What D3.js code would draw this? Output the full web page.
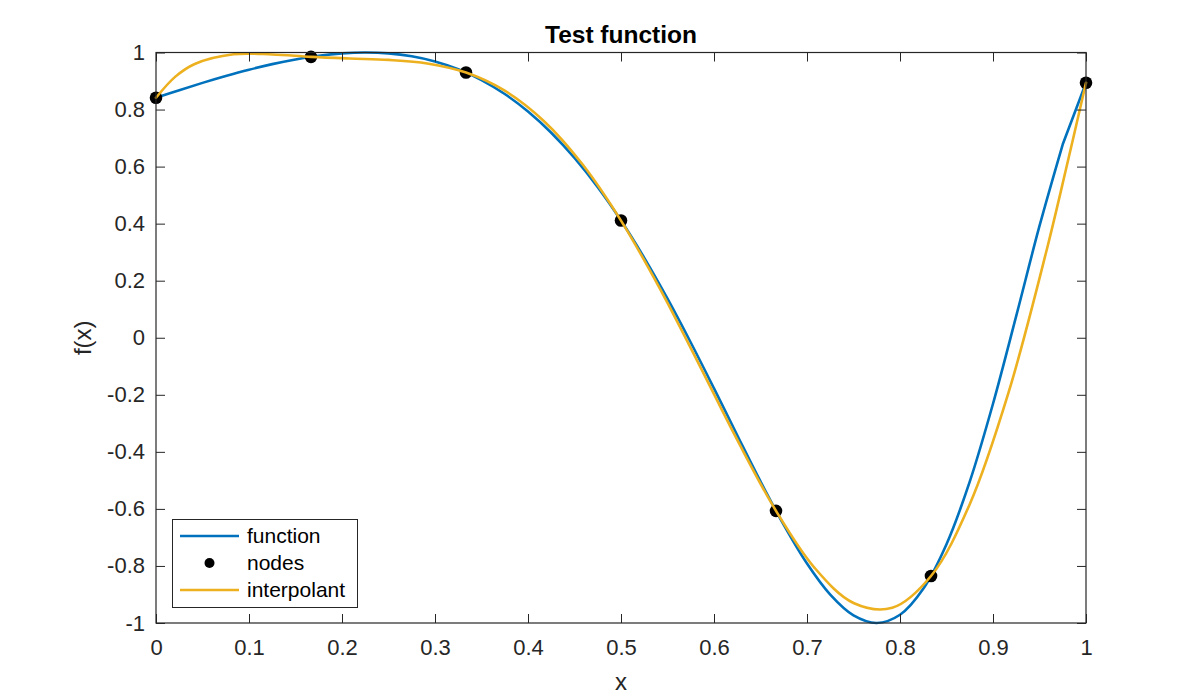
<!DOCTYPE html>
<html>
<head>
<meta charset="utf-8">
<script src="https://cdn.jsdelivr.net/npm/d3@7"></script>
<style>
  html, body { margin: 0; padding: 0; background: #fff; }
  svg { display: block; font-family: "Liberation Sans", Arial, Helvetica, sans-serif; }
</style>
</head>
<body>
<svg id="chart" width="1200" height="700"></svg>
<script>
// ---- data ----
const funcX = [0, 0.025, 0.05, 0.075, 0.1, 0.125, 0.15, 0.175, 0.2, 0.225, 0.25, 0.275, 0.3, 0.325, 0.35, 0.375, 0.4, 0.425, 0.45, 0.475, 0.5, 0.525, 0.55, 0.575, 0.6, 0.625, 0.65, 0.675, 0.7, 0.725, 0.75, 0.775, 0.8, 0.825, 0.85, 0.875, 0.9, 0.925, 0.95, 0.975, 1];
const funcY = [0.8415, 0.8680, 0.8935, 0.9175, 0.9396, 0.9592, 0.9757, 0.9885, 0.9969, 1.0000, 0.9970, 0.9868, 0.9686, 0.9412, 0.9035, 0.8545, 0.7932, 0.7187, 0.6303, 0.5277, 0.4108, 0.2801, 0.1370, -0.0166, -0.1776, -0.3417, -0.5036, -0.6563, -0.7917, -0.9008, -0.9735, -1.0000, -0.9712, -0.8802, -0.7238, -0.5043, -0.2314, 0.0766, 0.3919, 0.6783, 0.8939];

const nodeX = [0, 0.166667, 0.333333, 0.5, 0.666667, 0.833333, 1];
const nodeY = [0.8415, 0.9847, 0.9298, 0.4108, -0.6068, -0.8353, 0.8939];

const interpX = [0, 0.020833, 0.041667, 0.083333, 0.125, 0.166667, 0.208333, 0.25, 0.291667, 0.333333, 0.375, 0.416667, 0.458333, 0.5, 0.541667, 0.583333, 0.625, 0.666667, 0.708333, 0.75, 0.791667, 0.833333, 0.875, 0.916667, 0.958333, 0.979167, 1];
const interpY = [0.8415, 0.9154, 0.9599, 0.9939, 0.9932, 0.9847, 0.9788, 0.9740, 0.9617, 0.9298, 0.8662, 0.7610, 0.6091, 0.4108, 0.1732, -0.0897, -0.3582, -0.6068, -0.8073, -0.9298, -0.9466, -0.8353, -0.5834, -0.1925, 0.3157, 0.6002, 0.8939];

const xTicks = [0, 0.1, 0.2, 0.3, 0.4, 0.5, 0.6, 0.7, 0.8, 0.9, 1];
const xTickLabels = ["0", "0.1", "0.2", "0.3", "0.4", "0.5", "0.6", "0.7", "0.8", "0.9", "1"];
const yTicks = [-1, -0.8, -0.6, -0.4, -0.2, 0, 0.2, 0.4, 0.6, 0.8, 1];
const yTickLabels = ["-1", "-0.8", "-0.6", "-0.4", "-0.2", "0", "0.2", "0.4", "0.6", "0.8", "1"];

const seriesNames = ["function", "nodes", "interpolant"];
const titleText = "Test function";
const xLabelText = "x";
const yLabelText = "f(x)";

// ---- layout ----
const pLeft = 156, pRight = 1086, pTop = 52.5, pBottom = 623;
const axisColor = "#262626";
const blue = "#0072BD", yellow = "#EDB120";
const tickLen = 9;
const lw = 2.6;

const svg = d3.select("#chart");
const x = d3.scaleLinear().domain([0, 1]).range([pLeft, pRight]);
const y = d3.scaleLinear().domain([-1, 1]).range([pBottom, pTop]);

svg.append("rect").attr("x", pLeft).attr("y", pTop).attr("width", pRight - pLeft).attr("height", pBottom - pTop).attr("fill", "#fff");

svg.append("clipPath").attr("id", "clip").append("rect")
  .attr("x", pLeft - 8).attr("y", pTop - 8).attr("width", pRight - pLeft + 16).attr("height", pBottom - pTop + 16);

const plot = svg.append("g").attr("clip-path", "url(#clip)");

// function: smooth through the samples, with the last sample step drawn straight (as in the reference)
const funcPts = funcX.map((v, i) => [v, funcY[i]]);
const smoothLine = d3.line().x(d => x(d[0])).y(d => y(d[1])).curve(d3.curveCatmullRom.alpha(0.5));
const straightLine = d3.line().x(d => x(d[0])).y(d => y(d[1])).curve(d3.curveLinear);
const nF = funcPts.length;
plot.append("path")
  .attr("d", smoothLine(funcPts.slice(0, nF - 1)) + straightLine(funcPts.slice(nF - 2)).replace(/^M[^L]*/, ""))
  .attr("fill", "none").attr("stroke", blue).attr("stroke-width", lw)
  .attr("stroke-linejoin", "round").attr("stroke-linecap", "round");

// nodes
plot.selectAll("circle.node")
  .data(nodeX.map((v, i) => [v, nodeY[i]]))
  .join("circle").attr("class", "node")
  .attr("cx", d => x(d[0])).attr("cy", d => y(d[1])).attr("r", 6.3).attr("fill", "#000");

// interpolant
plot.append("path")
  .datum(interpX.map((v, i) => [v, interpY[i]]))
  .attr("d", smoothLine)
  .attr("fill", "none").attr("stroke", yellow).attr("stroke-width", lw)
  .attr("stroke-linejoin", "round").attr("stroke-linecap", "round");

// ---- axes ----
const fontTick = 22;
const xAxis = d3.axisBottom(x).tickValues(xTicks).tickFormat((d, i) => xTickLabels[i])
  .tickSizeInner(-tickLen).tickSizeOuter(0).tickPadding(16);
const gx = svg.append("g").attr("transform", `translate(0,${pBottom})`).call(xAxis);

const yAxis = d3.axisLeft(y).tickValues(yTicks).tickFormat((d, i) => yTickLabels[i])
  .tickSizeInner(-tickLen).tickSizeOuter(0).tickPadding(11);
const gy = svg.append("g").attr("transform", `translate(${pLeft},0)`).call(yAxis);

const gxTop = svg.append("g").attr("transform", `translate(0,${pTop})`)
  .call(d3.axisTop(x).tickValues(xTicks).tickFormat("").tickSizeInner(-tickLen).tickSizeOuter(0));
const gyRight = svg.append("g").attr("transform", `translate(${pRight},0)`)
  .call(d3.axisRight(y).tickValues(yTicks).tickFormat("").tickSizeInner(-tickLen).tickSizeOuter(0));

[gx, gy, gxTop, gyRight].forEach(g => {
  g.select(".domain").remove();
  g.selectAll(".tick line").attr("stroke", axisColor).attr("stroke-width", 1);
  g.selectAll(".tick text").attr("fill", axisColor).attr("font-size", fontTick)
    .attr("font-family", "'Liberation Sans', Arial, Helvetica, sans-serif");
});

svg.append("rect").attr("x", pLeft).attr("y", pTop).attr("width", pRight - pLeft).attr("height", pBottom - pTop)
  .attr("fill", "none").attr("stroke", axisColor).attr("stroke-width", 1.2);

// ---- labels ----
svg.append("text").attr("x", (pLeft + pRight) / 2).attr("y", 43)
  .attr("text-anchor", "middle").attr("font-weight", "bold").attr("font-size", 24.5).attr("fill", "#000")
  .text(titleText);

svg.append("text").attr("x", (pLeft + pRight) / 2).attr("y", 690)
  .attr("text-anchor", "middle").attr("font-size", 24).attr("fill", axisColor)
  .text(xLabelText);

svg.append("text").attr("transform", `translate(91,${(pTop + pBottom) / 2}) rotate(-90)`)
  .attr("text-anchor", "middle").attr("font-size", 24).attr("fill", axisColor)
  .text(yLabelText);

// ---- legend ----
const lg = svg.append("g");
lg.append("rect").attr("x", 172.5).attr("y", 519.5).attr("width", 185).attr("height", 88)
  .attr("fill", "#fff").attr("stroke", axisColor).attr("stroke-width", 1);
const rowsY = [536, 563, 590];
const legendFont = 21;
lg.append("line").attr("x1", 180).attr("x2", 239).attr("y1", rowsY[0]).attr("y2", rowsY[0])
  .attr("stroke", blue).attr("stroke-width", lw);
lg.append("circle").attr("cx", 209.5).attr("cy", rowsY[1]).attr("r", 5).attr("fill", "#000");
lg.append("line").attr("x1", 180).attr("x2", 239).attr("y1", rowsY[2]).attr("y2", rowsY[2])
  .attr("stroke", yellow).attr("stroke-width", lw);
seriesNames.forEach((name, i) => {
  lg.append("text").attr("x", 247).attr("y", rowsY[i]).attr("dy", "0.35em")
    .attr("font-size", legendFont).attr("fill", "#000").text(name);
});
</script>
</body>
</html>
